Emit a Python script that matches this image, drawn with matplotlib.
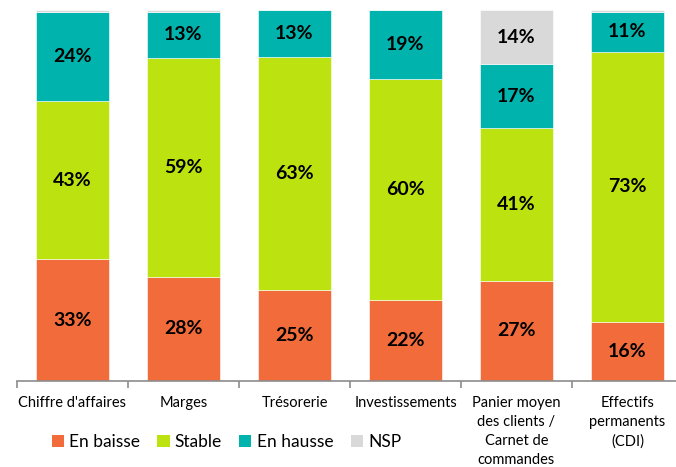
import matplotlib
matplotlib.use("Agg")
import matplotlib.pyplot as plt
import numpy as np
from matplotlib.patches import Patch

categories = ["Chiffre d'affaires", "Marges", "Trésorerie", "Investissements",
              "Panier moyen\ndes clients /\nCarnet de\ncommandes", "Effectifs\npermanents\n(CDI)"]
en_baisse = [32.8, 28.1, 24.6, 21.8, 27.0, 15.9]
stable = [42.6, 59.0, 62.7, 59.6, 41.2, 72.8]
en_hausse = [24.0, 12.4, 12.7, 18.6, 17.2, 10.8]
nsp = [0.6, 0.5, 0.0, 0.0, 14.6, 0.5]
labels_baisse = ["33%", "28%", "25%", "22%", "27%", "16%"]
labels_stable = ["43%", "59%", "63%", "60%", "41%", "73%"]
labels_hausse = ["24%", "13%", "13%", "19%", "17%", "11%"]
labels_nsp = ["", "", "", "", "14%", ""]
series_names = ["En baisse", "Stable", "En hausse", "NSP"]
colors = ["#F26B3B", "#BCE20F", "#00B3AC", "#D9D9D9"]

plt.rcParams['font.family'] = ['Lato', 'DejaVu Sans']

fig = plt.figure(figsize=(6.76, 4.67), dpi=100)
ax = fig.add_axes([17/676, (467-381)/467, 666/676, 371/467])

x = np.arange(len(categories))
w = 0.66
bottom = np.zeros(len(categories))
all_series = [en_baisse, stable, en_hausse, nsp]
all_labels = [labels_baisse, labels_stable, labels_hausse, labels_nsp]
for vals, labs, col in zip(all_series, all_labels, colors):
    vals = np.array(vals)
    ax.bar(x, vals, w, bottom=bottom, color=col, edgecolor='white', linewidth=0.4)
    for xi, b, v, lab in zip(x, bottom, vals, labs):
        if lab:
            ax.text(xi, b + v/2, lab, ha='center', va='center', fontsize=14,
                    fontweight='bold', color='black')
    bottom += vals

ax.set_xlim(-0.5, len(categories) - 0.5)
ax.set_ylim(0, 100)
for s in ['top', 'right', 'left']:
    ax.spines[s].set_visible(False)
ax.spines['bottom'].set_color('#8C8C8C')
ax.spines['bottom'].set_linewidth(1.2)
ax.set_yticks([])
ax.set_xticks(x)
ax.set_xticklabels(categories, fontsize=10.5, linespacing=1.45)
ax.tick_params(axis='x', which='major', length=0, pad=11)
ax.set_xticks(np.arange(-0.5, len(categories)), minor=True)
ax.tick_params(axis='x', which='minor', length=5, color='#8C8C8C', width=1.2)

handles = [Patch(facecolor=c, edgecolor='none') for c in colors]
fig.legend(handles, series_names, loc='center left', bbox_to_anchor=(36/676, 1 - 442/467),
           ncol=4, frameon=False, fontsize=12.5, handlelength=0.7, handleheight=0.7,
           handletextpad=0.3, columnspacing=1.0)

fig.savefig("out.png", dpi=100)
